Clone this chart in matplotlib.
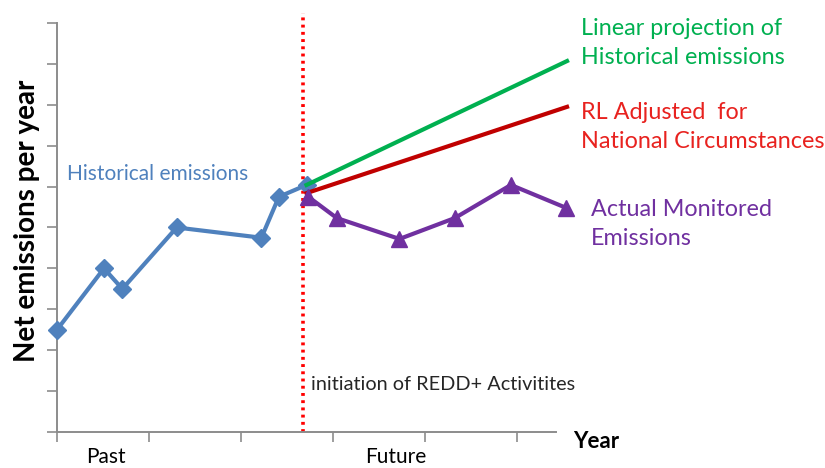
import numpy as np
import matplotlib
matplotlib.use('Agg')
import matplotlib.pyplot as plt

plt.rcParams['font.family'] = ['Lato', 'DejaVu Sans']

# data (x in tick units, y in gridline units)
hist_x = [0.0, 0.51, 0.71, 1.30, 2.22, 2.41, 2.71]
hist_y = [2.5, 4.0, 3.5, 5.0, 4.75, 5.75, 6.04]

actual_x = [2.73, 3.04, 3.72, 4.32, 4.93, 5.53]
actual_y = [5.75, 5.23, 4.72, 5.23, 6.04, 5.48]

linear_x = [2.71, 5.54]
linear_y = [6.04, 9.07]

rl_x = [2.71, 5.54]
rl_y = [5.84, 7.95]

redd_start = 2.67

x_ticks = [0, 1, 2, 3, 4, 5]
y_ticks = list(range(11))

W, H = 825, 468
fig = plt.figure(figsize=(W / 100, H / 100), dpi=100)
ax = fig.add_axes([57 / W, 1 - 432 / H, (556 - 57) / W, (432 - 23) / H])

blue = '#4f81bd'
green = '#00b050'
red = '#c00000'
purple = '#7030a0'

ax.plot(hist_x, hist_y, color=blue, lw=3, marker='D', ms=9, clip_on=False, zorder=3)
ax.plot(linear_x, linear_y, color=green, lw=3, clip_on=False, zorder=4)
ax.plot(rl_x, rl_y, color=red, lw=3, clip_on=False, zorder=4)
ax.plot(actual_x, actual_y, color=purple, lw=3, marker='^', ms=12, clip_on=False, zorder=5)
ax.axvline(redd_start, ymin=0, ymax=1.025, color='#ff0000', lw=2.6,
           linestyle=(0, (0.8, 1.2)), clip_on=False, zorder=2)

ax.set_xlim(0, 5.42)
ax.set_ylim(0, 10)
ax.set_xticks(x_ticks)
ax.set_yticks(y_ticks)
ax.set_xticklabels([])
ax.set_yticklabels([])
for s in ['top', 'right']:
    ax.spines[s].set_visible(False)
for s in ['left', 'bottom']:
    ax.spines[s].set_color('#8c8c8c')
    ax.spines[s].set_linewidth(1.4)
ax.tick_params(axis='both', direction='out', length=7, width=1.2, color='#8c8c8c')


def px(x, y):
    return x / W, 1 - y / H


fig.text(*px(27, 221), 'Net emissions per year', rotation=90, fontsize=20,
         fontweight='bold', ha='center', va='center')
fig.text(*px(573, 441), 'Year', fontsize=16, fontweight='bold', ha='left', va='center')
fig.text(*px(106, 457), 'Past', fontsize=15, ha='center', va='center')
fig.text(*px(396, 457), 'Future', fontsize=15, ha='center', va='center')
fig.text(*px(67, 174), 'Historical emissions', fontsize=15, color=blue, ha='left', va='center')
fig.text(*px(311, 384), 'initiation of REDD+ Activitites', fontsize=14.3, color='#262626',
         ha='left', va='center')
fig.text(*px(581, 43), 'Linear projection of\nHistorical emissions', fontsize=16.8, color=green,
         ha='left', va='center', linespacing=1.45)
fig.text(*px(581, 127), 'RL Adjusted  for\nNational Circumstances', fontsize=16.8, color='#e8221f',
         ha='left', va='center', linespacing=1.45)
fig.text(*px(591, 224), 'Actual Monitored\nEmissions', fontsize=16.8, color=purple,
         ha='left', va='center', linespacing=1.45)

fig.savefig('out.png', dpi=100)
